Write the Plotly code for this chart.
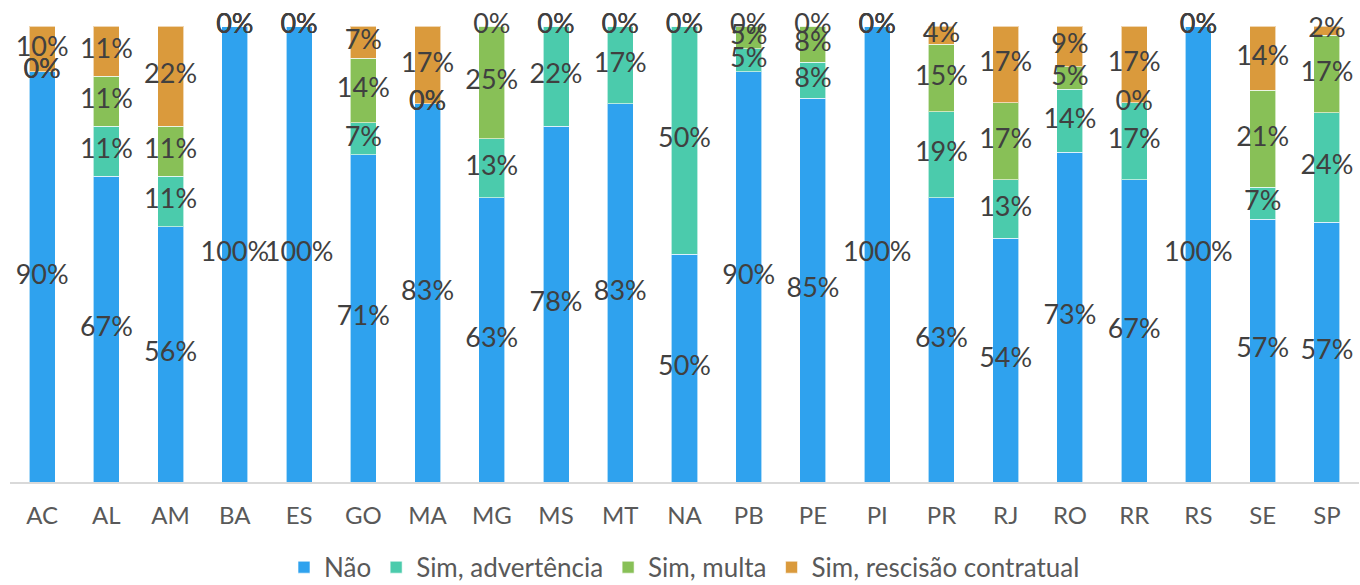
import plotly.graph_objects as go

# Share of contracts by state and type of penalty applied (%)
estados = ["AC", "AL", "AM", "BA", "ES", "GO", "MA", "MG", "MS", "MT", "NA",
           "PB", "PE", "PI", "PR", "RJ", "RO", "RR", "RS", "SE", "SP"]
nao = [90, 67, 56, 100, 100, 71, 83, 63, 78, 83, 50, 90, 85, 100, 63, 54, 73, 67, 100, 57, 57]
advertencia = [0, 11, 11, 0, 0, 7, 0, 13, 22, 17, 50, 5, 8, 0, 19, 13, 14, 17, 0, 7, 24]
multa = [0, 11, 11, 0, 0, 14, 0, 25, 0, 0, 0, 5, 8, 0, 15, 17, 5, 0, 0, 21, 17]
rescisao = [10, 11, 22, 0, 0, 7, 17, 0, 0, 0, 0, 0, 0, 0, 4, 17, 9, 17, 0, 14, 2]

series = [
    ("Não", nao, "#2FA2EE"),
    ("Sim, advertência", advertencia, "#4BCBAC"),
    ("Sim, multa", multa, "#88C057"),
    ("Sim, rescisão contratual", rescisao, "#DA9A3C"),
]

FONT = "Lato, 'Open Sans', sans-serif"

fig = go.Figure()
for nome, vals, cor in series:
    fig.add_trace(go.Bar(
        x=estados, y=vals, name=nome,
        marker=dict(color=cor, line=dict(color="rgba(255,255,255,0.6)", width=1)),
        hoverinfo="skip",
    ))

# Data labels centred in each (normalised) stack segment, including 0% ones
totais = [sum(s[1][i] for s in series) for i in range(len(estados))]
base = [0.0] * len(estados)
for nome, vals, cor in series:
    ys = []
    for i, v in enumerate(vals):
        frac = 100.0 * v / totais[i]
        ys.append(base[i] + frac / 2)
        base[i] += frac
    fig.add_trace(go.Scatter(
        x=estados, y=ys, mode="text",
        text=[f"{v}%" for v in vals],
        textfont=dict(family=FONT, size=27, color="#404040"),
        showlegend=False, hoverinfo="skip", cliponaxis=False,
    ))

fig.update_layout(
    barmode="stack",
    barnorm="percent",
    bargap=0.595,
    width=1360, height=585,
    margin=dict(l=10, r=1, t=26, b=103, autoexpand=False),
    paper_bgcolor="white",
    plot_bgcolor="white",
    font=dict(family=FONT, color="#595959"),
    xaxis=dict(
        range=[-0.5, len(estados) - 0.5],
        showline=True, linecolor="#D9D9D9", linewidth=1.5,
        showgrid=False, ticks="", tickfont=dict(size=24, color="#595959"),
        ticklabelstandoff=11, fixedrange=True,
    ),
    yaxis=dict(range=[0, 100], visible=False, showgrid=False, fixedrange=True),
    legend=dict(
        orientation="h", x=0.5, xanchor="center",
        yref="paper", y=-0.187, yanchor="middle",
        font=dict(size=26, color="#595959"),
        traceorder="normal", itemwidth=30,
    ),
)

fig.write_html("out.html")
